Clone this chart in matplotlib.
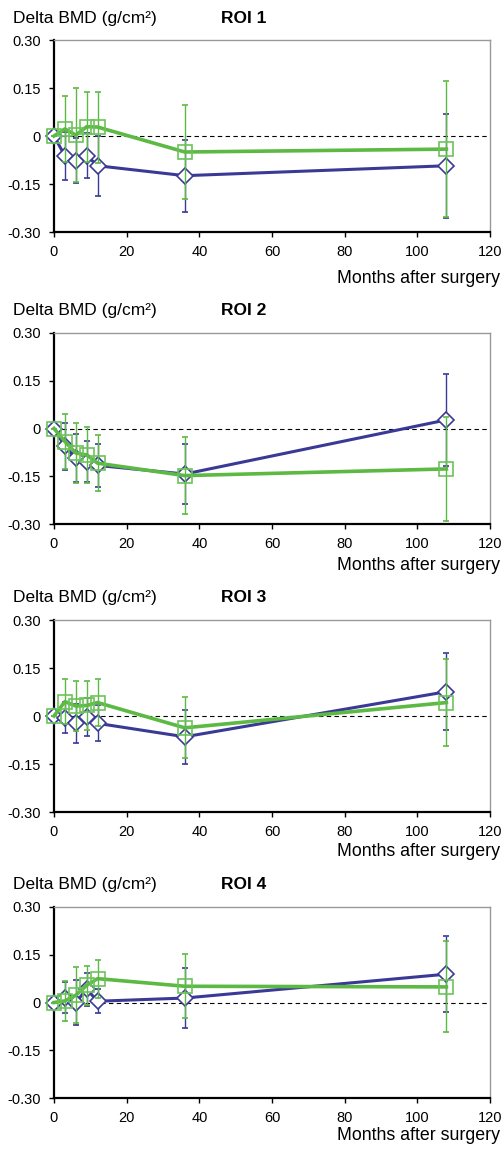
import matplotlib
matplotlib.use("Agg")
import matplotlib.pyplot as plt

plt.rcParams['font.family'] = ['Liberation Sans', 'DejaVu Sans']

months = [0, 3, 6, 9, 12, 36, 108]

# ROI 1
roi1_blue = [0, -0.062, -0.077, -0.061, -0.093, -0.124, -0.093]
roi1_blue_sd = [0, 0.076, 0.070, 0.071, 0.094, 0.112, 0.163]
roi1_green = [0, 0.022, 0.003, 0.029, 0.028, -0.050, -0.041]
roi1_green_sd = [0, 0.103, 0.146, 0.110, 0.111, 0.148, 0.212]

# ROI 2
roi2_blue = [0, -0.056, -0.093, -0.104, -0.116, -0.143, 0.027]
roi2_blue_sd = [0, 0.074, 0.075, 0.064, 0.067, 0.093, 0.144]
roi2_green = [0, -0.041, -0.077, -0.083, -0.109, -0.148, -0.127]
roi2_green_sd = [0, 0.087, 0.095, 0.088, 0.088, 0.122, 0.163]

# ROI 3
roi3_blue = [0, -0.005, -0.023, -0.004, -0.023, -0.065, 0.076]
roi3_blue_sd = [0, 0.049, 0.062, 0.060, 0.056, 0.085, 0.120]
roi3_green = [0, 0.045, 0.031, 0.033, 0.042, -0.037, 0.042]
roi3_green_sd = [0, 0.070, 0.078, 0.076, 0.074, 0.095, 0.137]

# ROI 4
roi4_blue = [0, 0.015, 0.000, 0.042, 0.004, 0.014, 0.089]
roi4_blue_sd = [0, 0.048, 0.072, 0.052, 0.037, 0.095, 0.120]
roi4_green = [0, 0.005, 0.023, 0.054, 0.075, 0.051, 0.049]
roi4_green_sd = [0, 0.063, 0.087, 0.061, 0.060, 0.100, 0.143]

panels = [
    ("ROI 1", roi1_blue, roi1_blue_sd, roi1_green, roi1_green_sd),
    ("ROI 2", roi2_blue, roi2_blue_sd, roi2_green, roi2_green_sd),
    ("ROI 3", roi3_blue, roi3_blue_sd, roi3_green, roi3_green_sd),
    ("ROI 4", roi4_blue, roi4_blue_sd, roi4_green, roi4_green_sd),
]

blue = '#3a3a96'
green = '#5cb944'

W, H = 503, 1149
fig = plt.figure(figsize=(W / 100, H / 100), dpi=100)

# pixel positions of each panel (plot area, header baseline, x label baseline)
tops = [40, 333, 620, 907]
bottoms = [232, 524, 812, 1098]
header_y = [23, 315, 602, 889]
xlabel_y = [283, 570, 856, 1140]
left, right = 54, 490


def no_clip(container):
    for art in container.get_children():
        art.set_clip_on(False)


for (title, b, bsd, g, gsd), top, bot, hy, xy in zip(panels, tops, bottoms, header_y, xlabel_y):
    ax = fig.add_axes([left / W, 1 - bot / H, (right - left) / W, (bot - top) / H])

    ax.axhline(0, color='black', lw=0.8, ls=(0, (4, 3)), zorder=1)

    eb = ax.errorbar(months, b, yerr=bsd, color=blue, lw=2.2, marker='D', ms=8,
                     mfc='white', mec=blue, mew=1.2, ecolor=blue, elinewidth=1,
                     capsize=2.5, capthick=1, zorder=3)
    no_clip(eb)
    eg = ax.errorbar(months, g, yerr=gsd, color=green, lw=2.6, marker='s', ms=10,
                     mfc='none', mec='#6cc35a', mew=1.2, ecolor=green, elinewidth=1,
                     capsize=2.5, capthick=1, zorder=4)
    no_clip(eg)

    ax.set_xlim(0, 120)
    ax.set_ylim(-0.30, 0.30)
    ax.set_xticks(range(0, 121, 20))
    ax.set_yticks([-0.30, -0.15, 0, 0.15, 0.30])
    ax.set_yticklabels(['-0.30', '-0.15', '0', '0.15', '0.30'])
    ax.tick_params(direction='out', length=3.5, width=1, labelsize=10.5, pad=6,
                   top=False, right=False)

    for s in ('left', 'bottom'):
        ax.spines[s].set_linewidth(1.6)
        ax.spines[s].set_color('black')
    for s in ('top', 'right'):
        ax.spines[s].set_linewidth(1)
        ax.spines[s].set_color('#999999')

    fig.text(13 / W, 1 - hy / H, 'Delta BMD (g/cm\u00b2)', fontsize=12.5,
             ha='left', va='baseline')
    fig.text(244 / W, 1 - hy / H, title, fontsize=12.5, fontweight='bold',
             ha='center', va='baseline')
    fig.text(500 / W, 1 - xy / H, 'Months after surgery', fontsize=12.8,
             ha='right', va='baseline')

fig.savefig('out.png', dpi=100)
